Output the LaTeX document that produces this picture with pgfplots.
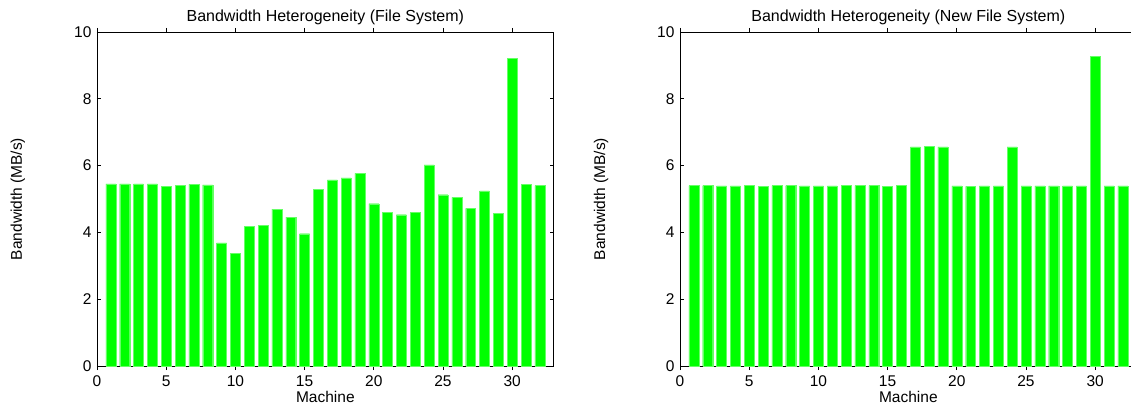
\documentclass[border=0pt]{standalone}
\usepackage{pgfplots}
\pgfplotsset{compat=1.18}
\usepackage{fontspec}
\setmainfont{Liberation Sans}
\definecolor{bargreen}{RGB}{0,255,0}
\pgfplotstableread{
x y
1 5.45
2 5.45
3 5.45
4 5.45
5 5.38
6 5.41
7 5.44
8 5.42
9 3.69
10 3.38
11 4.18
12 4.22
13 4.70
14 4.46
15 3.96
16 5.29
17 5.57
18 5.63
19 5.77
20 4.86
21 4.61
22 4.53
23 4.61
24 6.02
25 5.13
26 5.05
27 4.72
28 5.24
29 4.57
30 9.21
31 5.44
32 5.40
}\oldfs
\pgfplotstableread{
x y
1 5.40
2 5.40
3 5.39
4 5.39
5 5.40
6 5.38
7 5.40
8 5.40
9 5.39
10 5.39
11 5.39
12 5.40
13 5.40
14 5.40
15 5.38
16 5.40
17 6.56
18 6.58
19 6.56
20 5.39
21 5.38
22 5.39
23 5.39
24 6.56
25 5.39
26 5.39
27 5.39
28 5.39
29 5.39
30 9.27
31 5.39
32 5.39
}\newfs
\pgfplotsset{
  gp/.style={
    scale only axis,
    width=456.7pt, height=334pt,
    xmin=0, xmax=33, ymin=0, ymax=10,
    xtick={0,5,...,30}, ytick={0,2,...,10},
    tick align=inside,
    major tick length=4pt,
    axis line style={line width=0.8pt},
    every tick/.style={line width=0.6pt, black},
    /pgf/number format/assume math mode=true,
    tick label style={font=\fontsize{15.5}{17}\selectfont},
    label style={font=\fontsize{15.5}{17}\selectfont},
    title style={font=\fontsize{16}{18}\selectfont, at={(axis description cs:0.5,1.026)}, anchor=center},
    xlabel={Machine},
    ylabel={Bandwidth (MB/s)},
    xlabel style={at={(axis description cs:0.5,-0.093)}, anchor=center},
    ylabel style={at={(axis description cs:-0.173,0.5)}, anchor=center},
    xticklabel style={yshift=-2pt},
    yticklabel style={xshift=-2pt},
    ybar, bar width=0.72,
  },
}
\begin{document}
\begin{tikzpicture}
\useasboundingbox (-97pt,-41pt) rectangle (1034pt,366pt);
\begin{axis}[gp, at={(0pt,0pt)}, anchor=south west,
  title={Bandwidth Heterogeneity (File System)}]
\addplot[fill=bargreen, draw=bargreen!60!white, line width=0.3pt] table[x=x,y=y] {\oldfs};
\end{axis}
\begin{axis}[gp, at={(583pt,0pt)}, anchor=south west,
  title={Bandwidth Heterogeneity (New File System)}]
\addplot[fill=bargreen, draw=bargreen!60!white, line width=0.3pt] table[x=x,y=y] {\newfs};
\end{axis}
\end{tikzpicture}
\end{document}
